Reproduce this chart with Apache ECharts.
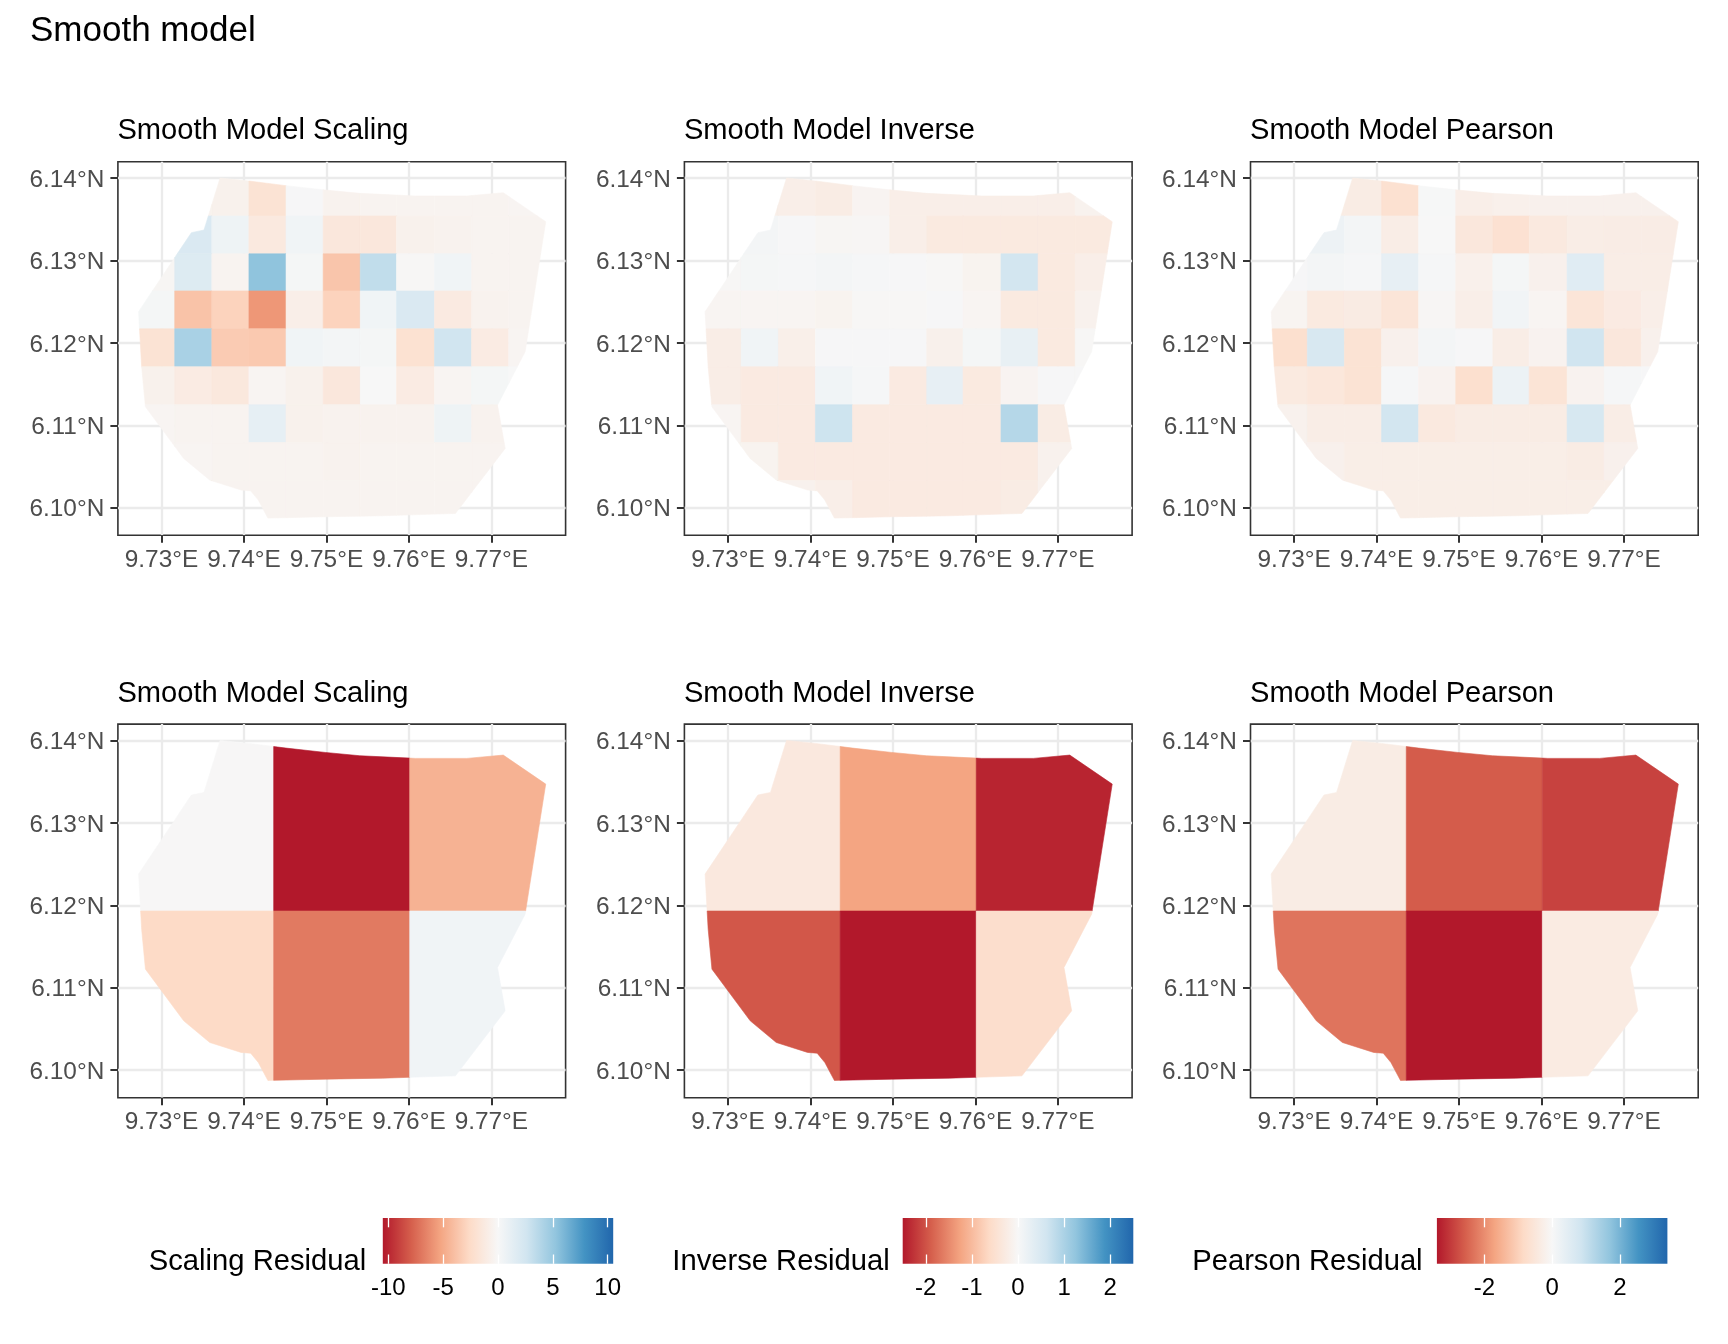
<!DOCTYPE html>
<html>
<head>
<meta charset="utf-8">
<style>html,body{margin:0;padding:0;background:#fff}#c{width:1728px;height:1344px}</style>
<script src="https://cdn.jsdelivr.net/npm/echarts@6/dist/echarts.min.js"></script>
</head>
<body>
<div id="c"></div>
<script>
// ---- data ----
const mainTitle = 'Smooth model';
const panelTitles = ['Smooth Model Scaling', 'Smooth Model Inverse', 'Smooth Model Pearson'];
const legendTitles = ['Scaling Residual', 'Inverse Residual', 'Pearson Residual'];
const lonTicks = [9.73, 9.74, 9.75, 9.76, 9.77];
const latTicks = [6.10, 6.11, 6.12, 6.13, 6.14];
const scalingTicks = [-10, -5, 0, 5, 10];
const inverseTicks = [-2, -1, 0, 1, 2];
const pearsonTicks = [-2, 0, 2];
const scalingLimit = 10.5, inverseLimit = 2.5, pearsonLimit = 3.4;
const rdBu = ['#B2182B', '#D6604D', '#F4A582', '#FDDBC7', '#F7F7F7', '#D1E5F0', '#92C5DE', '#4393C3', '#2166AC'];

// study-area outline
const outlineLon = [9.7371, 9.74058, 9.74508, 9.74986, 9.75404, 9.76077, 9.76703, 9.77144, 9.77659, 9.77409, 9.77074, 9.77167, 9.76564, 9.75682, 9.74986, 9.7429, 9.74174, 9.74081, 9.73965, 9.73585, 9.73269, 9.72805, 9.72759, 9.72722, 9.73167, 9.73362, 9.73515];
const outlineLat = [6.1400, 6.13964, 6.13907, 6.13854, 6.13814, 6.13782, 6.13782, 6.13822, 6.1347, 6.11892, 6.11245, 6.10719, 6.0993, 6.09902, 6.0989, 6.09874, 6.10092, 6.10205, 6.10214, 6.10335, 6.10598, 6.11225, 6.1171, 6.12378, 6.13045, 6.13337, 6.13369];

// fine grid edges
const fineLonEdges = [9.7270, 9.7316, 9.7361, 9.7406, 9.7451, 9.7496, 9.7541, 9.7585, 9.7631, 9.7676, 9.7721, 9.7768];
const fineLatEdges = [6.1402, 6.1354, 6.1308, 6.1263, 6.1217, 6.1171, 6.1125, 6.1079, 6.1033, 6.0985];
// coarse grid edges
const coarseLonEdges = [9.7270, 9.7436, 9.7601, 9.7768];
const coarseLatEdges = [6.1402, 6.1193, 6.0985];

const scalingFine = [
  [-0.5, -0.5, -0.6, -1.9, 0.1, -0.5, -0.4, -0.4, -0.4, -0.4, -0.3],
  [0.5, 2.0, 0.6, -1.3, 0.5, -1.5, -1.5, -0.6, -0.5, -0.4, -0.4],
  [-0.2, 1.8, -0.4, 5.3, 0.2, -3.7, 3.3, -0.1, 0.5, -0.4, -0.4],
  [0.2, -3.8, -3.0, -5.8, -0.8, -3.0, 0.5, 2.0, -1.2, -0.5, -0.4],
  [-1.9, 4.3, -3.4, -3.5, 0.5, 0.3, 0.2, -2.0, 2.6, -1.1, -0.3],
  [-0.6, -1.1, -1.4, -0.3, -0.6, -1.5, 0.0, -1.1, -0.3, 0.2, 0.0],
  [-0.3, -0.4, -0.4, 1.2, -0.6, -0.5, -0.5, -0.5, 0.6, -0.5, -0.3],
  [-0.3, -0.3, -0.4, -0.4, -0.4, -0.5, -0.4, -0.4, -0.4, -0.4, -0.3],
  [-0.4, -0.4, -0.4, -0.4, -0.4, -0.4, -0.4, -0.4, -0.4, -0.4, -0.4]
];
const inverseFine = [
  [-0.2, -0.2, -0.2, -0.25, -0.08, -0.2, -0.2, -0.2, -0.2, -0.2, -0.12],
  [0.06, 0.06, 0.02, -0.05, -0.04, -0.2, -0.3, -0.3, -0.3, -0.3, -0.3],
  [-0.03, 0.05, 0.04, 0.07, 0.03, 0.02, -0.03, -0.1, 0.6, -0.3, -0.2],
  [-0.07, -0.07, -0.07, -0.1, -0.02, -0.03, 0.02, -0.07, -0.3, -0.3, -0.13],
  [-0.22, 0.12, -0.18, 0.02, 0.02, 0.02, -0.15, 0.05, 0.25, -0.3, -0.02],
  [-0.22, -0.28, -0.28, 0.12, 0.03, -0.28, 0.27, -0.3, -0.08, 0.02, 0.02],
  [-0.06, -0.28, -0.28, 0.65, -0.28, -0.28, -0.28, -0.28, 0.9, -0.25, -0.2],
  [-0.1, -0.1, -0.28, -0.28, -0.28, -0.28, -0.28, -0.28, -0.28, -0.13, -0.13],
  [-0.2, -0.2, -0.13, -0.2, -0.28, -0.28, -0.28, -0.28, -0.25, -0.13, -0.13]
];
const pearsonFine = [
  [-0.34, -0.34, -0.34, -0.68, 0.02, -0.27, -0.22, -0.2, -0.2, -0.2, -0.2],
  [0.22, 0.22, 0.08, -0.3, 0.0, -0.48, -0.66, -0.42, -0.3, -0.32, -0.32],
  [0.03, 0.09, 0.05, 0.36, 0.04, -0.22, 0.07, -0.2, 0.52, -0.3, -0.3],
  [-0.1, -0.4, -0.35, -0.55, -0.05, -0.26, 0.14, -0.08, -0.55, -0.38, -0.27],
  [-0.7, 0.7, -0.62, -0.2, 0.1, 0.03, -0.3, -0.15, 0.85, -0.48, -0.2],
  [-0.4, -0.5, -0.62, 0.05, -0.15, -0.7, 0.25, -0.58, -0.14, 0.05, 0.03],
  [-0.18, -0.3, -0.3, 0.8, -0.42, -0.33, -0.33, -0.33, 0.72, -0.3, -0.25],
  [-0.2, -0.2, -0.28, -0.28, -0.28, -0.28, -0.28, -0.28, -0.33, -0.2, -0.2],
  [-0.28, -0.28, -0.28, -0.28, -0.28, -0.28, -0.28, -0.28, -0.28, -0.28, -0.28]
];
const scalingCoarse = [[-0.05, -10.5, -4.6], [-2.6, -6.9, 0.5]];
const inverseCoarse = [[-0.33, -1.25, -2.4], [-1.95, -2.5, -0.55]];
const pearsonCoarse = [[-0.33, -2.6, -2.9], [-2.3, -3.4, -0.37]];

// ---- layout ----
const panelLefts = [117.9, 684.4, 1250.5];
const panelW = 447.7, panelH = 373.6;
const panelTops = [161.7, 724.1];
const lonMin = 9.72471, lonMax = 9.7790, latMin = 6.09665, latMax = 6.14198;
const barBoxes = [[382.8, 230.4], [902.7, 230.6], [1436.9, 230.5]];
const barTop = 1218, barH = 45.8;
const legendTitleLefts = [148.8, 672.3, 1192.2];
const FONT = '"Liberation Sans", Arial, sans-serif';

function clipToCell(x0, y0, x1, y1) {
  let pts = outlineLon.map((x, i) => [x, outlineLat[i]]);
  const sides = [
    [p => p[0] >= x0, (a, b) => { const t = (x0 - a[0]) / (b[0] - a[0]); return [x0, a[1] + t * (b[1] - a[1])]; }],
    [p => p[0] <= x1, (a, b) => { const t = (x1 - a[0]) / (b[0] - a[0]); return [x1, a[1] + t * (b[1] - a[1])]; }],
    [p => p[1] <= y0, (a, b) => { const t = (y0 - a[1]) / (b[1] - a[1]); return [a[0] + t * (b[0] - a[0]), y0]; }],
    [p => p[1] >= y1, (a, b) => { const t = (y1 - a[1]) / (b[1] - a[1]); return [a[0] + t * (b[0] - a[0]), y1]; }]
  ];
  for (const [inside, cross] of sides) {
    const out = [];
    for (let i = 0; i < pts.length; i++) {
      const a = pts[i], b = pts[(i + 1) % pts.length];
      const ia = inside(a), ib = inside(b);
      if (ia) out.push(a);
      if (ia !== ib) out.push(cross(a, b));
    }
    pts = out;
    if (!pts.length) break;
  }
  return pts;
}

function cellData(values, lonEdges, latEdges) {
  const rows = [];
  values.forEach((row, r) => row.forEach((v, c) => {
    rows.push([lonEdges[c], latEdges[r], lonEdges[c + 1], latEdges[r + 1], v]);
  }));
  return rows;
}

function renderCell(params, api) {
  const poly = clipToCell(api.value(0), api.value(1), api.value(2), api.value(3));
  if (poly.length < 3) return null;
  const color = api.visual('color');
  return {
    type: 'polygon',
    shape: { points: poly.map(p => api.coord(p)) },
    style: { fill: color, stroke: color, lineWidth: 0.6 }
  };
}

const grid = [], xAxis = [], yAxis = [], series = [], visualMap = [], title = [];

title.push({ text: mainTitle, left: 30, top: 14, padding: 0, textStyle: { fontFamily: FONT, fontSize: 35, fontWeight: 'normal', color: '#000' } });

const limits = [scalingLimit, inverseLimit, pearsonLimit];
const sets = [
  [scalingFine, inverseFine, pearsonFine],
  [scalingCoarse, inverseCoarse, pearsonCoarse]
];
const edges = [[fineLonEdges, fineLatEdges], [coarseLonEdges, coarseLatEdges]];

for (let r = 0; r < 2; r++) {
  for (let c = 0; c < 3; c++) {
    const idx = grid.length;
    grid.push({ left: panelLefts[c], top: panelTops[r], width: panelW, height: panelH, show: true, borderColor: '#333', borderWidth: 1.6, backgroundColor: 'transparent', containLabel: false });
    title.push({ text: panelTitles[c], left: panelLefts[c] - 0.5, top: panelTops[r] - 44.8, padding: 0, textStyle: { fontFamily: FONT, fontSize: 29.1, fontWeight: 'normal', color: '#000' } });
    xAxis.push({
      type: 'value', gridIndex: idx, min: lonMin, max: lonMax, position: 'bottom', z: 1,
      axisLine: { show: false },
      axisTick: { show: true, length: 7.5, lineStyle: { color: '#333', width: 2 }, customValues: lonTicks },
      axisLabel: { show: true, margin: 13, fontFamily: FONT, fontSize: 24.4, color: '#4D4D4D', customValues: lonTicks, formatter: v => v.toFixed(2) + '°E', hideOverlap: false },
      splitLine: { show: true, lineStyle: { color: '#EBEBEB', width: 2.3 } },
      minorTick: { show: false }, minorSplitLine: { show: false }
    });
    yAxis.push({
      type: 'value', gridIndex: idx, min: latMin, max: latMax, position: 'left', z: 1,
      axisLine: { show: false },
      axisTick: { show: true, length: 7.5, lineStyle: { color: '#333', width: 2 }, customValues: latTicks },
      axisLabel: { show: true, margin: 13.6, verticalAlign: 'top', lineHeight: 4, fontFamily: FONT, fontSize: 24.4, color: '#4D4D4D', customValues: latTicks, formatter: v => v.toFixed(2) + '°N', hideOverlap: false },
      splitLine: { show: true, lineStyle: { color: '#EBEBEB', width: 2.3 } }
    });
    series.push({
      type: 'custom', xAxisIndex: idx, yAxisIndex: idx, z: 2, silent: true,
      dimensions: ['lon0', 'lat0', 'lon1', 'lat1', 'value'],
      encode: { x: [0, 2], y: [1, 3] },
      renderItem: renderCell,
      data: cellData(sets[r][c], edges[r][0], edges[r][1])
    });
    visualMap.push({ type: 'continuous', show: false, seriesIndex: idx, dimension: 4, min: -limits[c], max: limits[c], inRange: { color: rdBu } });
  }
}

// legends
const legendTicks = [scalingTicks, inverseTicks, pearsonTicks];
for (let c = 0; c < 3; c++) {
  const L = limits[c];
  const g = grid.length;
  grid.push({ left: barBoxes[c][0], top: barTop, width: barBoxes[c][1], height: barH, show: false });
  const ax = xAxis.length;
  xAxis.push({
    type: 'value', gridIndex: g, min: -L, max: L, position: 'bottom', z: 10,
    axisLine: { show: false },
    axisTick: { show: true, inside: true, length: 9.3, lineStyle: { color: '#fff', width: 1.3 }, customValues: legendTicks[c] },
    axisLabel: { show: true, margin: 12.5, fontFamily: FONT, fontSize: 24, color: '#000', customValues: legendTicks[c], formatter: v => String(v), hideOverlap: false },
    splitLine: { show: false }
  });
  xAxis.push({
    type: 'value', gridIndex: g, min: -L, max: L, position: 'top', z: 10,
    axisLine: { show: false },
    axisTick: { show: true, inside: true, length: 9.3, lineStyle: { color: '#fff', width: 1.3 }, customValues: legendTicks[c] },
    axisLabel: { show: false }, splitLine: { show: false }
  });
  const ay = yAxis.length;
  yAxis.push({ type: 'value', gridIndex: g, min: 0, max: 1, show: false });
  series.push({
    type: 'custom', xAxisIndex: ax, yAxisIndex: ay, z: 2, silent: true,
    encode: { x: [0, 1] },
    renderItem: function (params, api) {
      const a = api.coord([api.value(0), 1]), b = api.coord([api.value(1), 0]);
      return {
        type: 'rect',
        shape: { x: a[0], y: a[1], width: b[0] - a[0], height: b[1] - a[1] },
        style: { fill: new echarts.graphic.LinearGradient(0, 0, 1, 0, rdBu.map((col, i) => ({ offset: i / (rdBu.length - 1), color: col }))) }
      };
    },
    data: [[-L, L]]
  });
  title.push({ text: legendTitles[c], left: legendTitleLefts[c], top: 1247, padding: 0, textStyle: { fontFamily: FONT, fontSize: 29.2, fontWeight: 'normal', color: '#000' } });
}

const chart = echarts.init(document.getElementById('c'), null, { renderer: 'canvas', width: 1728, height: 1344 });
chart.setOption({ animation: false, backgroundColor: '#fff', title, grid, xAxis, yAxis, visualMap, series });
</script>
</body>
</html>
